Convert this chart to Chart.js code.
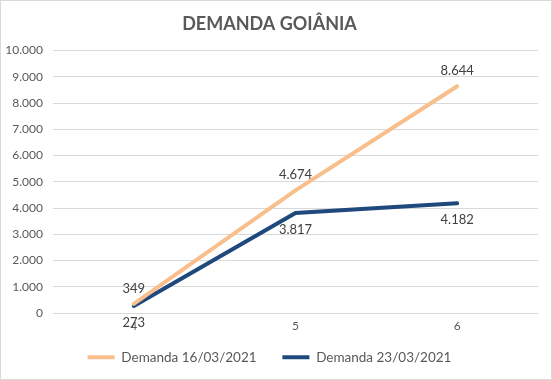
<!DOCTYPE html>
<html>
<head>
<meta charset="utf-8">
<script src="https://cdn.jsdelivr.net/npm/chart.js@4/dist/chart.umd.min.js"></script>
<style>
html,body{margin:0;padding:0;background:#fff;}
#wrap{position:absolute;left:0;top:0;width:550px;height:378px;border:1px solid #d9d9d9;background:#fff;}
canvas{display:block;}
</style>
</head>
<body>
<div id="wrap"><canvas id="c" width="550" height="378"></canvas></div>
<script>
const categories = ["4", "5", "6"];
const demanda1603 = [349, 4674, 8644];
const demanda2303 = [273, 3817, 4182];
const yTicks = [0, 1000, 2000, 3000, 4000, 5000, 6000, 7000, 8000, 9000, 10000];

const fmt = v => Math.round(v).toString().replace(/\B(?=(\d{3})+(?!\d))/g, ".");
const FONT = "Lato, 'Open Sans', sans-serif";

const labelPlugin = {
  id: 'labels',
  afterDatasetsDraw(chart) {
    const ctx = chart.ctx;
    ctx.save();
    ctx.font = "13px " + FONT;
    ctx.fillStyle = "#404040";
    ctx.textAlign = "center";
    chart.data.datasets.forEach((ds, i) => {
      const meta = chart.getDatasetMeta(i);
      meta.data.forEach((pt, j) => {
        const txt = fmt(ds.data[j]);
        if (i === 0) {
          ctx.textBaseline = "bottom";
          ctx.fillText(txt, pt.x, pt.y - 9);
        } else {
          ctx.textBaseline = "top";
          ctx.fillText(txt, pt.x, pt.y + 10);
        }
      });
    });
    ctx.restore();
  }
};

new Chart(document.getElementById('c'), {
  type: 'line',
  data: {
    labels: categories,
    datasets: [
      { label: "Demanda 16/03/2021", data: demanda1603, borderColor: "#F8BF8C", backgroundColor: "#F8BF8C", borderWidth: 4, pointRadius: 0, tension: 0, borderCapStyle: 'round' },
      { label: "Demanda 23/03/2021", data: demanda2303, borderColor: "#1F497D", backgroundColor: "#1F497D", borderWidth: 4, pointRadius: 0, tension: 0, borderCapStyle: 'round' }
    ]
  },
  options: {
    responsive: false,
    animation: false,
    layout: { padding: { left: 0, right: 13, top: 4, bottom: 5 } },
    plugins: {
      title: { display: true, text: "DEMANDA GOIÂNIA", color: "#595959", font: { family: FONT, size: 18, weight: 'bold' }, padding: { top: 8, bottom: 16 } },
      legend: {
        position: 'bottom',
        labels: {
          color: "#595959",
          font: { family: FONT, size: 13.5 },
          boxWidth: 27, boxHeight: 4, padding: 12,
          generateLabels(chart) {
            return chart.data.datasets.map((ds, i) => ({ text: ds.label + (i === 0 ? "    " : ""), fillStyle: ds.borderColor, strokeStyle: ds.borderColor, lineWidth: 0, datasetIndex: i, fontColor: "#595959" }));
          }
        }
      },
      tooltip: { enabled: false }
    },
    scales: {
      x: {
        offset: true,
        grid: { display: false, drawTicks: false },
        border: { display: false },
        ticks: { color: "#595959", font: { family: FONT, size: 12 }, padding: 5.5 }
      },
      y: {
        min: 0, max: 10000,
        afterBuildTicks(s) { s.ticks = yTicks.map(v => ({ value: v })); },
        afterFit(s) { s.width = 52; },
        grid: { color: "#d9d9d9", lineWidth: 1, drawTicks: false },
        border: { display: false },
        ticks: { color: "#595959", font: { family: FONT, size: 12 }, padding: 10, callback: v => fmt(v) }
      }
    }
  },
  plugins: [labelPlugin]
});
</script>
</body>
</html>
